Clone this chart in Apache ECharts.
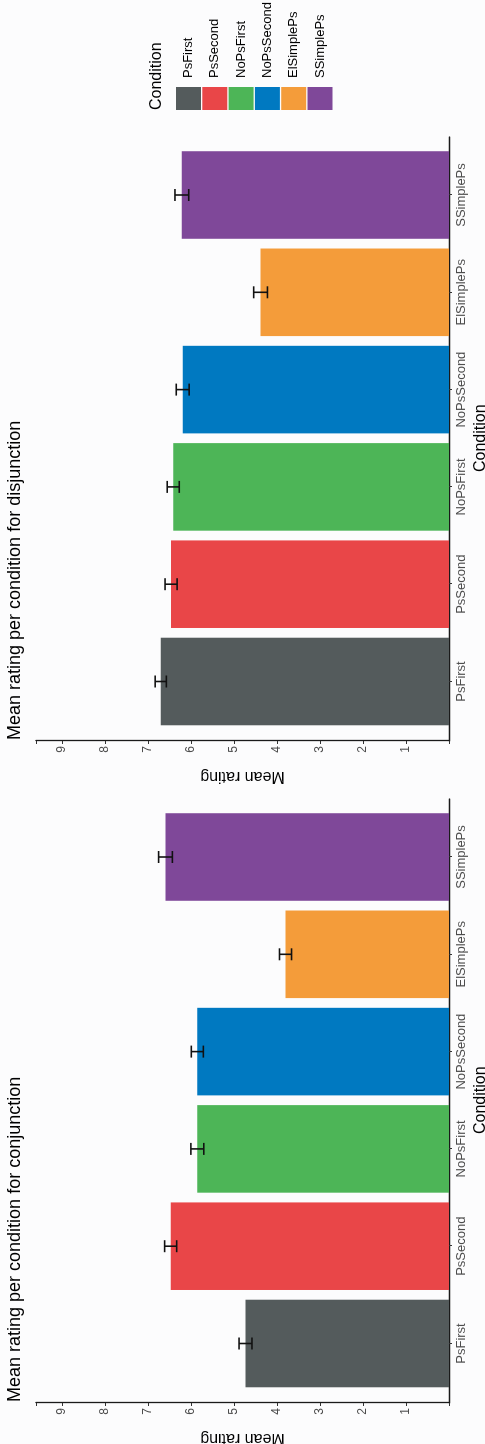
<!DOCTYPE html>
<html>
<head>
<meta charset="utf-8">
<script src="https://cdn.jsdelivr.net/npm/echarts@6/dist/echarts.min.js"></script>
<style>
  html, body { margin: 0; padding: 0; background: #fcfcfd; overflow: hidden; }
  #wrap { position: absolute; left: 0; top: 0; width: 485px; height: 1444px; overflow: hidden; background: #fcfcfd; }
  #c { position: absolute; left: 0; top: 0; width: 1444px; height: 485px;
       transform-origin: 0 0; transform: translate(0px, 1444px) rotate(-90deg); }
</style>
</head>
<body>
<div id="wrap"><div id="c"></div></div>
<script>
// ---- data ----
const categories = ['PsFirst', 'PsSecond', 'NoPsFirst', 'NoPsSecond', 'ElSimplePs', 'SSimplePs'];
const conjMeans = [4.73, 6.47, 5.85, 5.85, 3.80, 6.59];
const conjErr   = [0.15, 0.14, 0.15, 0.14, 0.14, 0.16];
const disjMeans = [6.70, 6.46, 6.41, 6.19, 4.38, 6.21];
const disjErr   = [0.13, 0.14, 0.14, 0.15, 0.16, 0.16];
const yTickLabels = [1, 2, 3, 4, 5, 6, 7, 8, 9];
const panelTitles = ['Mean rating per condition for conjunction', 'Mean rating per condition for disjunction'];
const colors = ['#545b5c', '#e94648', '#4db557', '#0079c1', '#f49c3a', '#7f4899'];

const FONT = '"Liberation Sans", Arial, Helvetica, sans-serif';
const chart = echarts.init(document.getElementById('c'), null, { width: 1444, height: 485, renderer: 'canvas' });

const Y_MAX = 9.6;
const TOP = 36, H = 413;
const panelOffsets = [0, 662];
const BAND = 97.3;

const grids = [], xAxes = [], yAxes = [], series = [], titles = [];
// narrow grids (bars), index 0,1
panelOffsets.forEach((off) => {
  grids.push({ left: 51.85 + off, top: TOP, width: BAND * 6, height: H, outerBoundsMode: 'none', containLabel: false });
});
// wide grids (axis lines), index 2,3
panelOffsets.forEach((off) => {
  grids.push({ left: 41 + off, top: TOP, width: 604, height: H, outerBoundsMode: 'none', containLabel: false });
});

panelOffsets.forEach((off, p) => {
  xAxes.push({
    type: 'category', gridIndex: p, data: categories,
    axisLine: { show: false },
    axisTick: { show: true, alignWithLabel: true, length: 3, lineStyle: { color: '#333', width: 1 } },
    axisLabel: { color: '#4d4d4d', fontSize: 13, fontFamily: FONT, margin: 6, interval: 0 },
    splitLine: { show: false },
    name: 'Condition', nameLocation: 'middle', nameGap: 23,
    nameTextStyle: { color: '#000', fontSize: 16, fontFamily: FONT }
  });
  yAxes.push({ type: 'value', gridIndex: p, min: 0, max: Y_MAX, show: false, splitLine: { show: false } });
});
panelOffsets.forEach((off, p) => {
  xAxes.push({
    type: 'value', gridIndex: 2 + p, min: 0, max: 1,
    axisLine: { show: true, onZero: false, lineStyle: { color: '#1a1a1a', width: 1.3 } },
    axisTick: { show: false }, axisLabel: { show: false }, splitLine: { show: false }
  });
  yAxes.push({
    type: 'value', gridIndex: 2 + p, min: 0, max: Y_MAX, interval: 1,
    axisLine: { show: true, onZero: false, lineStyle: { color: '#1a1a1a', width: 1.3 } },
    axisTick: { show: true, length: 3, lineStyle: { color: '#333', width: 1 } },
    axisLabel: {
      color: '#4d4d4d', fontSize: 12, fontFamily: FONT, margin: 5,
      formatter: v => (yTickLabels.indexOf(v) >= 0 ? String(v) : '')
    },
    splitLine: { show: false },
    name: 'Mean rating', nameLocation: 'middle', nameGap: 27,
    nameTextStyle: { color: '#000', fontSize: 16, fontFamily: FONT }
  });
});

const panelData = [[conjMeans, conjErr], [disjMeans, disjErr]];
panelData.forEach(([means, errs], p) => {
  categories.forEach((name, i) => {
    series.push({
      type: 'bar', name: name, xAxisIndex: p, yAxisIndex: p,
      data: categories.map((_, j) => (j === i ? means[i] : '-')),
      barGap: '-100%', barCategoryGap: '10%',
      itemStyle: { color: colors[i] }, silent: true, animation: false
    });
  });
  series.push({
    type: 'custom', xAxisIndex: p, yAxisIndex: p, silent: true, animation: false, z: 10,
    data: categories.map((_, i) => [i, means[i] - errs[i], means[i] + errs[i]]),
    encode: { x: 0, y: [1, 2] },
    renderItem: function (params, api) {
      const lo = api.coord([api.value(0), api.value(1)]);
      const hi = api.coord([api.value(0), api.value(2)]);
      const hw = 6;
      const style = { stroke: '#111', lineWidth: 1.6, fill: null };
      return {
        type: 'group',
        children: [
          { type: 'line', shape: { x1: lo[0], y1: lo[1], x2: hi[0], y2: hi[1] }, style: style },
          { type: 'line', shape: { x1: lo[0] - hw, y1: lo[1], x2: lo[0] + hw, y2: lo[1] }, style: style },
          { type: 'line', shape: { x1: hi[0] - hw, y1: hi[1], x2: hi[0] + hw, y2: hi[1] }, style: style }
        ]
      };
    }
  });
  titles.push({
    text: panelTitles[p], left: 42 + panelOffsets[p], top: 6, padding: 0,
    textStyle: { color: '#000', fontSize: 18, fontWeight: 'normal', fontFamily: FONT }
  });
});
titles.push({
  text: 'Condition', left: 1334, top: 149, padding: 0,
  textStyle: { color: '#000', fontSize: 16, fontWeight: 'normal', fontFamily: FONT }
});

chart.setOption({
  backgroundColor: '#fcfcfd',
  animation: false,
  title: titles,
  legend: {
    orient: 'vertical', left: 1334, top: 176, padding: 0,
    itemWidth: 23, itemHeight: 25, itemGap: 1.3, icon: 'rect',
    data: categories,
    selectedMode: false,
    textStyle: { color: '#000', fontSize: 13, fontFamily: FONT, padding: [0, 0, 0, 4] }
  },
  grid: grids,
  xAxis: xAxes,
  yAxis: yAxes,
  series: series
});
</script>
</body>
</html>
